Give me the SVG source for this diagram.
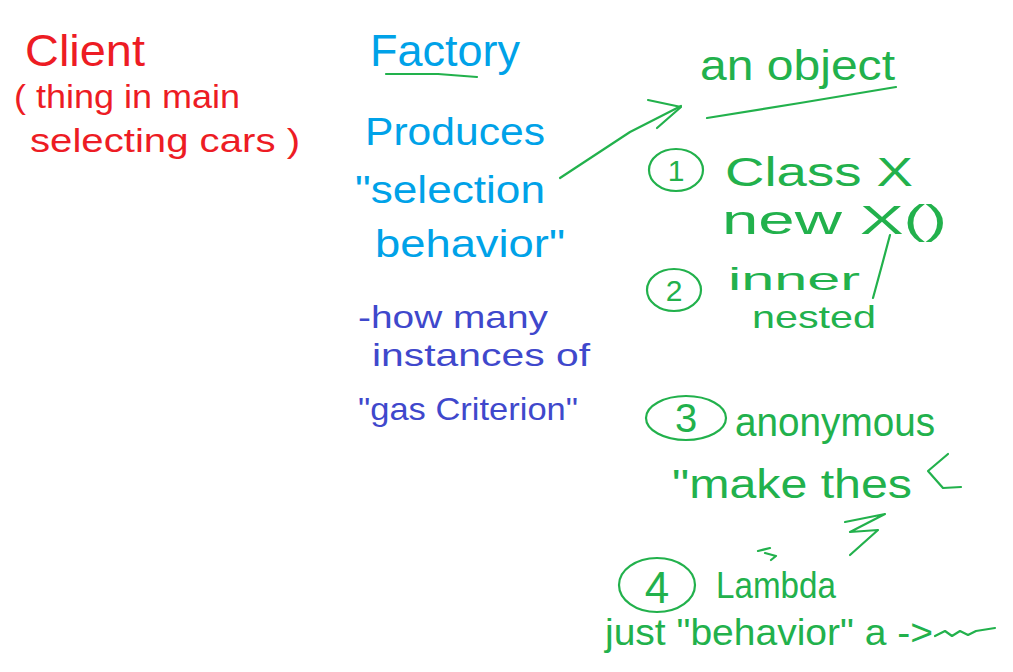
<svg xmlns="http://www.w3.org/2000/svg" width="1013" height="672" viewBox="0 0 1013 672">
<style>
text{font-family:"Liberation Sans","DejaVu Sans",sans-serif;font-weight:normal}
.r{fill:#ed1c24}.b{fill:#00a2e8}.i{fill:#3f48cc}.g{fill:#22b14c}
.gs{fill:none;stroke:#22b14c;stroke-width:2.2;stroke-linecap:round;stroke-linejoin:round}
</style>
<rect width="1013" height="672" fill="#ffffff"/>
<g id="client">
<text class="r" x="25" y="66" font-size="44" textLength="120" lengthAdjust="spacingAndGlyphs">Client</text>
<text class="r" x="14" y="108" font-size="34" textLength="226" lengthAdjust="spacingAndGlyphs">( thing in main</text>
<text class="r" x="30" y="152" font-size="34" textLength="270" lengthAdjust="spacingAndGlyphs">selecting cars )</text>
</g>
<g id="factory">
<text class="b" x="370" y="66" font-size="44" textLength="150" lengthAdjust="spacingAndGlyphs">Factory</text>
<path class="gs" d="M386 74 L438 74 L477 77"/>
<text class="b" x="365" y="145" font-size="38" textLength="180" lengthAdjust="spacingAndGlyphs">Produces</text>
<text class="b" x="355" y="203" font-size="38" textLength="190" lengthAdjust="spacingAndGlyphs">"selection</text>
<text class="b" x="375" y="257" font-size="38" textLength="190" lengthAdjust="spacingAndGlyphs">behavior"</text>
</g>
<g id="gas-criterion">
<text class="i" x="358" y="328" font-size="32" textLength="190" lengthAdjust="spacingAndGlyphs">-how many</text>
<text class="i" x="372" y="366" font-size="32" textLength="218" lengthAdjust="spacingAndGlyphs">instances of</text>
<text class="i" x="358" y="420" font-size="32" textLength="220" lengthAdjust="spacingAndGlyphs">"gas Criterion"</text>
</g>
<g id="connectors">
<path class="gs" d="M560 178 L630 132 L681 106"/>
<path class="gs" d="M648 100 L681 107 L657 128"/>
</g>
<g id="an-object">
<text class="g" x="700" y="80" font-size="42" textLength="195" lengthAdjust="spacingAndGlyphs">an object</text>
<path class="gs" d="M707 118 L800 103 L896 87"/>
</g>
<g id="item1">
<ellipse class="gs" cx="676" cy="170" rx="27" ry="21"/>
<text class="g" x="676" y="181" font-size="30" text-anchor="middle">1</text>
<text class="g" x="725" y="186" font-size="40" textLength="188" lengthAdjust="spacingAndGlyphs">Class X</text>
<text class="g" x="722" y="234" font-size="40" textLength="225" lengthAdjust="spacingAndGlyphs">new X()</text>
</g>
<g id="item2">
<ellipse class="gs" cx="674" cy="290" rx="27" ry="21"/>
<text class="g" x="674" y="301" font-size="30" text-anchor="middle">2</text>
<text class="g" x="728" y="290" font-size="32" textLength="132" lengthAdjust="spacingAndGlyphs">inner</text>
<text class="g" x="752" y="328" font-size="32" textLength="124" lengthAdjust="spacingAndGlyphs">nested</text>
<path class="gs" d="M890 235 L882 265 L873 298"/>
</g>
<g id="item3">
<ellipse class="gs" cx="686" cy="418" rx="40" ry="22"/>
<text class="g" x="686" y="432" font-size="40" text-anchor="middle">3</text>
<text class="g" x="735" y="436" font-size="40" textLength="200" lengthAdjust="spacingAndGlyphs">anonymous</text>
<text class="g" x="672" y="498" font-size="40" textLength="240" lengthAdjust="spacingAndGlyphs">"make thes</text>
<path class="gs" d="M948 454 L928 471 L943 488 L961 487"/>
<path class="gs" d="M845 522 L885 514 L850 532 L878 530 L850 555"/>
<path class="gs" d="M758 551 L770 548 M765 553 L776 556 L771 560"/>
</g>
<g id="item4">
<ellipse class="gs" cx="657" cy="585" rx="38" ry="27"/>
<text class="g" x="657" y="603" font-size="44" text-anchor="middle">4</text>
<text class="g" x="716" y="598" font-size="36" textLength="120" lengthAdjust="spacingAndGlyphs">Lambda</text>
<text class="g" x="605" y="645" font-size="36" textLength="328" lengthAdjust="spacingAndGlyphs">just "behavior"  a -&gt;</text>
<path class="gs" d="M935 636 L945 631 L952 636 L960 631 L968 635 L976 631 L995 628"/>
</g>
</svg>
